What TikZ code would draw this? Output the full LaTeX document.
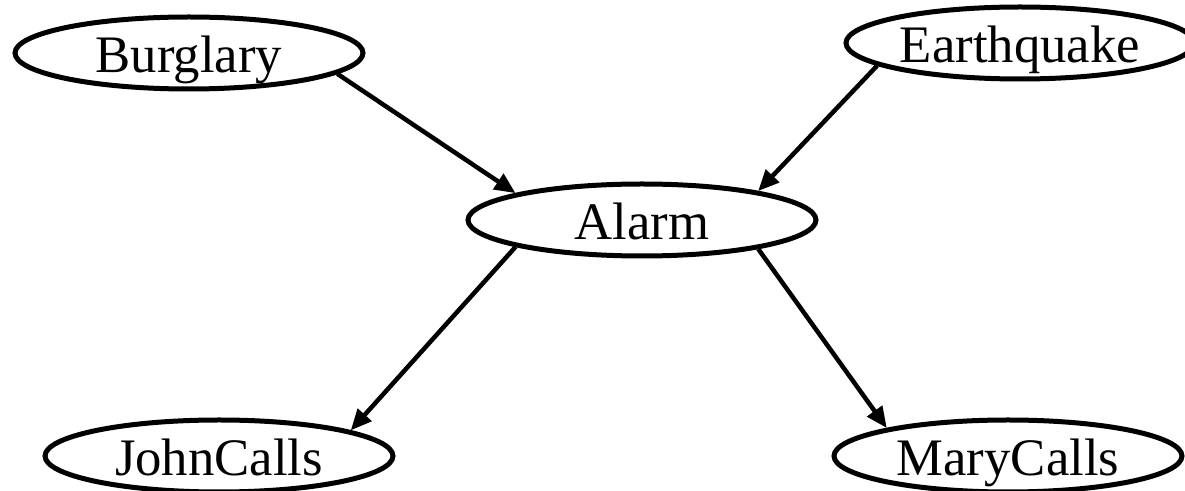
\documentclass[tikz,border=0pt]{standalone}
\usepackage{fontspec}
\setmainfont{Liberation Serif}
\usetikzlibrary{shapes.geometric,arrows.meta,positioning}

\begin{document}
\begin{tikzpicture}[
    font=\fontsize{15}{18}\selectfont,
    var/.style   ={ellipse,draw=black,line width=0.05cm,inner sep=0pt,
                   minimum width=3.48cm,minimum height=0.72cm,
                   text height=0.4cm,text depth=0cm},
    arrow/.style ={->,>={Triangle[length=2.1mm,width=1.8mm]},line width=0.045cm},
]

% ---------- Page frame ----------
\useasboundingbox (0,0) rectangle (11.85,-4.91);

% ---------- Causes ----------
\node[var] (B) at (1.89,-0.53) {Burglary};
\node[var] (E) at (10.20,-0.43) {Earthquake};

% ---------- Middle ----------
\node[var] (A) at (6.42,-2.20) {Alarm};

% ---------- Effects ----------
\node[var] (J) at (2.19,-4.56) {JohnCalls};
\node[var] (M) at (10.08,-4.56) {MaryCalls};

% ---------- Edges ----------
\draw[arrow] (B.-8)  -- (A.168);
\draw[arrow] (E.189) -- (A.14);
\draw[arrow] (A.192) -- (J.11);
\draw[arrow] (A.-14) -- (M.167);

\end{tikzpicture}
\end{document}
